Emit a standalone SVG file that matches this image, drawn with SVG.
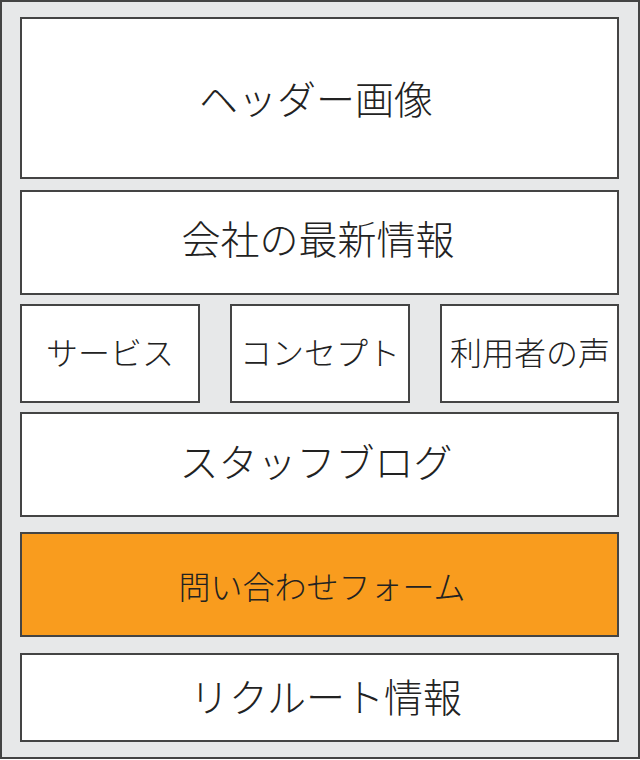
<svg xmlns="http://www.w3.org/2000/svg" width="640" height="760" viewBox="0 0 640 760">
<style>
.box{fill:#ffffff;stroke:#444444;stroke-width:2}
.hl{fill:#f99c1e;stroke:#444444;stroke-width:2}
.t{font-family:"Noto Sans CJK JP","Noto Sans",sans-serif;font-weight:300;fill:#222222;text-anchor:middle;dominant-baseline:central}
.l{font-size:39px}
.s{font-size:32px}
</style>
<rect x="1" y="1" width="638" height="757" fill="#e7e8e9" stroke="#444444" stroke-width="2"/>
<g id="header"><rect class="box" x="21" y="18" width="597" height="160"/><text class="t l" x="316" y="97">ヘッダー画像</text></g>
<g id="news"><rect class="box" x="21" y="191" width="597" height="103"/><text class="t l" x="318" y="237">会社の最新情報</text></g>
<g id="service"><rect class="box" x="21" y="305" width="178" height="97"/><text class="t s" x="110" y="351">サービス</text></g>
<g id="concept"><rect class="box" x="231" y="305" width="178" height="97"/><text class="t s" x="320" y="351">コンセプト</text></g>
<g id="voice"><rect class="box" x="441" y="305" width="177" height="97"/><text class="t s" x="530" y="351">利用者の声</text></g>
<g id="blog"><rect class="box" x="21" y="413" width="597" height="103"/><text class="t l" x="316" y="460">スタッフブログ</text></g>
<g id="contact"><rect class="hl" x="21" y="533" width="597" height="103"/><text class="t s" x="322" y="585">問い合わせフォーム</text></g>
<g id="recruit"><rect class="box" x="21" y="654" width="597" height="87"/><text class="t l" x="326" y="695">リクルート情報</text></g>
<g id="connectors"/>
</svg>
